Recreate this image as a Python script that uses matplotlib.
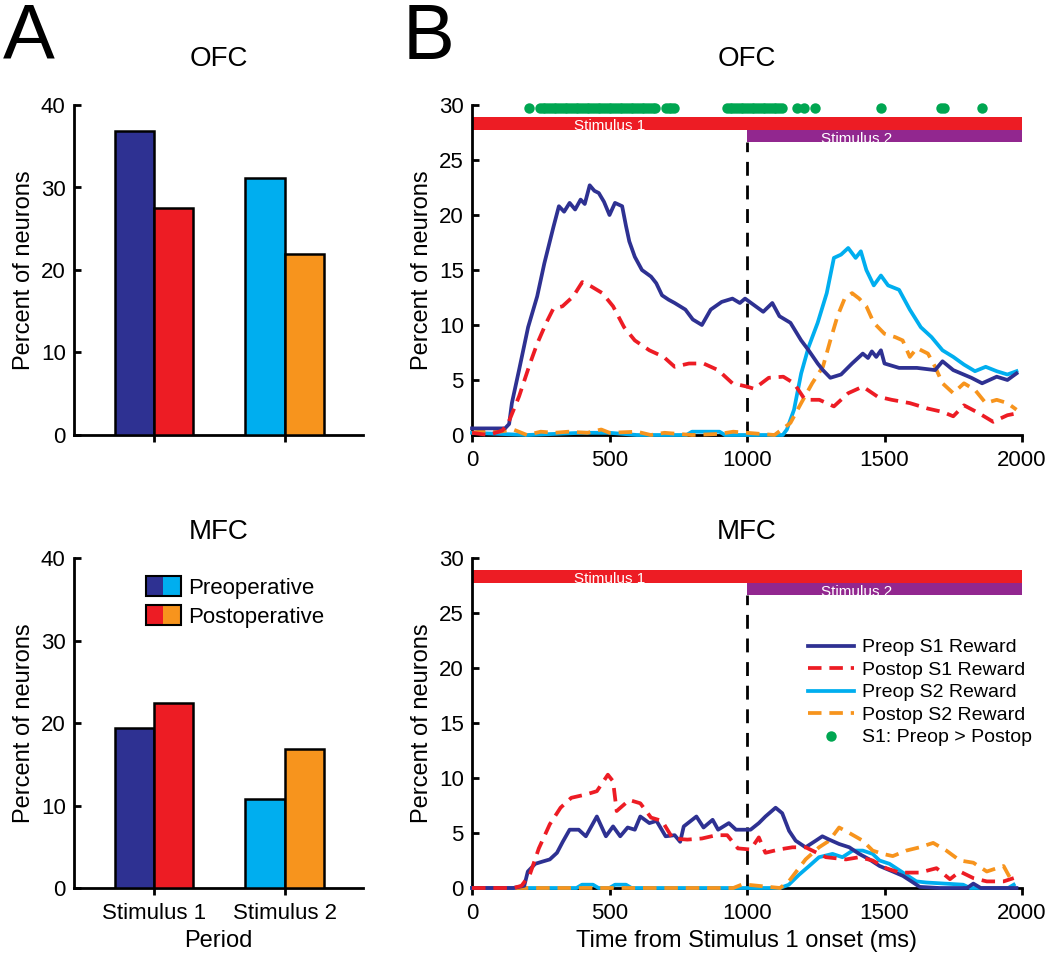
import numpy as np
import matplotlib
matplotlib.use("Agg")
import matplotlib.pyplot as plt
from matplotlib.patches import Rectangle
from matplotlib.lines import Line2D
from matplotlib.legend_handler import HandlerBase

plt.rcParams['font.family'] = ['Liberation Sans', 'DejaVu Sans']

# ---------------- data ----------------
periods = ['Stimulus 1', 'Stimulus 2']
ofc_pre = [36.8, 31.1]
ofc_post = [27.5, 21.9]
mfc_pre = [19.4, 10.8]
mfc_post = [22.4, 16.9]

# OFC time courses (ms, percent)
ofc_pre_s1_t = [0, 60, 120, 135, 145, 171, 204, 237, 263, 296, 316, 335, 355, 375, 395, 410, 428, 445, 461, 480, 500, 520, 546, 560, 572, 592, 618, 651, 670, 691, 715, 737, 776, 803, 836, 868, 908, 947, 974, 993, 1026, 1059, 1092, 1118, 1158, 1197, 1224, 1257, 1276, 1303, 1342, 1382, 1421, 1440, 1454, 1470, 1487, 1500, 1553, 1618, 1684, 1711, 1750, 1816, 1855, 1908, 1947, 1980]
ofc_pre_s1 = [0.6, 0.6, 0.6, 1.0, 2.9, 5.9, 9.8, 12.6, 15.6, 18.9, 20.8, 20.3, 21.1, 20.5, 21.4, 21.0, 22.7, 22.2, 22.0, 21.2, 20.0, 21.1, 20.8, 19.0, 17.6, 16.2, 15.0, 14.4, 13.8, 12.7, 12.3, 12.0, 11.4, 10.5, 10.0, 11.4, 12.1, 12.4, 12.0, 12.4, 11.8, 11.2, 12.0, 10.8, 10.2, 8.6, 7.7, 6.5, 5.9, 5.2, 5.5, 6.5, 7.4, 7.0, 7.6, 7.1, 7.7, 6.5, 6.1, 6.1, 5.9, 6.7, 5.9, 5.2, 4.7, 5.3, 5.0, 5.6]
ofc_post_s1_t = [0, 60, 110, 132, 171, 211, 237, 270, 296, 329, 368, 401, 434, 474, 513, 553, 592, 645, 697, 737, 789, 842, 895, 947, 1000, 1026, 1079, 1132, 1171, 1211, 1263, 1316, 1368, 1421, 1474, 1526, 1592, 1658, 1711, 1750, 1789, 1842, 1895, 1947, 1987]
ofc_post_s1 = [0.2, 0.0, 0.4, 1.1, 3.5, 6.5, 8.3, 10.2, 11.5, 11.7, 12.6, 13.9, 13.5, 12.9, 11.7, 9.8, 8.6, 7.7, 7.1, 6.2, 6.5, 6.5, 5.9, 4.7, 4.4, 4.2, 5.2, 5.3, 4.7, 3.2, 3.2, 2.6, 3.8, 4.4, 3.5, 3.2, 2.9, 2.4, 2.1, 1.7, 2.7, 2.0, 1.2, 1.8, 2.0]
ofc_pre_s2_t = [0, 100, 200, 400, 500, 600, 780, 800, 900, 920, 1000, 1130, 1145, 1171, 1197, 1224, 1257, 1290, 1316, 1342, 1368, 1395, 1414, 1434, 1461, 1487, 1513, 1553, 1592, 1632, 1671, 1711, 1750, 1789, 1829, 1868, 1908, 1947, 1980]
ofc_pre_s2 = [0.2, 0.1, 0.0, 0.2, 0.2, 0.0, 0.0, 0.3, 0.3, 0.0, 0.0, 0.0, 0.5, 2.3, 5.6, 8.0, 10.2, 12.9, 16.1, 16.4, 17.0, 16.1, 16.7, 15.0, 13.6, 14.5, 13.6, 13.2, 11.4, 9.8, 8.9, 7.7, 7.1, 6.4, 5.8, 6.2, 5.8, 5.5, 5.8]
ofc_post_s2_t = [0, 50, 100, 150, 200, 250, 300, 350, 420, 470, 500, 600, 650, 700, 800, 900, 950, 1000, 1100, 1158, 1197, 1237, 1276, 1303, 1329, 1355, 1382, 1408, 1434, 1461, 1500, 1539, 1566, 1592, 1618, 1658, 1684, 1711, 1750, 1789, 1829, 1868, 1908, 1947, 1980]
ofc_post_s2 = [0.2, 0.4, 0.3, 0.5, 0.0, 0.3, 0.2, 0.3, 0.2, 0.5, 0.2, 0.3, 0.0, 0.2, 0.0, 0.1, 0.3, 0.2, 0.0, 1.1, 2.9, 4.7, 6.2, 8.6, 10.8, 12.4, 12.9, 12.4, 11.7, 10.2, 9.2, 8.9, 8.6, 7.1, 7.9, 7.4, 6.2, 4.7, 3.8, 4.7, 4.1, 2.9, 3.2, 2.9, 2.3]

# MFC time courses
mfc_pre_s1_t = [0, 150, 190, 203, 230, 256, 283, 309, 330, 355, 388, 414, 454, 487, 513, 539, 566, 592, 612, 645, 671, 704, 737, 757, 770, 816, 842, 875, 895, 934, 960, 1013, 1043, 1067, 1104, 1128, 1153, 1177, 1213, 1250, 1274, 1299, 1335, 1372, 1408, 1445, 1482, 1530, 1567, 1604, 1628, 1700, 1800, 1823, 1850, 1980]
mfc_pre_s1 = [0.0, 0.0, 0.2, 1.5, 2.2, 2.4, 2.6, 3.2, 4.2, 5.3, 5.3, 4.7, 6.5, 4.7, 5.6, 4.7, 5.5, 5.3, 6.5, 5.9, 6.1, 4.7, 4.8, 4.2, 5.6, 6.5, 5.5, 6.2, 5.3, 5.9, 5.3, 5.3, 5.9, 6.5, 7.3, 6.8, 5.2, 4.3, 3.7, 4.3, 4.7, 4.4, 4.0, 3.7, 3.1, 2.6, 2.0, 1.5, 1.1, 0.5, 0.1, 0.0, 0.0, 0.4, 0.0, 0.0]
mfc_post_s1_t = [0, 150, 180, 210, 243, 283, 322, 361, 414, 454, 494, 513, 526, 572, 612, 651, 691, 730, 783, 836, 888, 928, 967, 1013, 1043, 1067, 1116, 1165, 1213, 1287, 1360, 1408, 1457, 1506, 1555, 1628, 1689, 1738, 1774, 1823, 1872, 1933, 1970]
mfc_post_s1 = [0.0, 0.0, 0.2, 1.2, 3.6, 5.8, 7.3, 8.2, 8.5, 8.8, 10.3, 9.7, 7.0, 8.0, 7.7, 6.4, 6.1, 4.5, 4.4, 4.5, 4.8, 4.8, 3.6, 3.5, 4.6, 3.2, 3.5, 3.7, 3.7, 2.8, 2.6, 2.8, 2.5, 1.8, 1.4, 1.4, 1.8, 0.8, 1.5, 0.9, 0.6, 0.6, 0.9]
mfc_pre_s2_t = [0, 380, 400, 440, 460, 500, 520, 560, 580, 1120, 1152, 1189, 1226, 1262, 1311, 1347, 1384, 1421, 1457, 1482, 1518, 1567, 1616, 1652, 1786, 1811, 1950, 1970]
mfc_pre_s2 = [0.0, 0.0, 0.3, 0.3, 0.0, 0.0, 0.3, 0.3, 0.0, 0.0, 0.3, 1.2, 2.0, 2.8, 3.1, 2.8, 3.4, 3.4, 3.1, 2.5, 2.2, 1.4, 0.6, 0.5, 0.3, 0.0, 0.0, 0.3]
mfc_post_s2_t = [0, 950, 980, 1000, 1120, 1152, 1213, 1262, 1299, 1335, 1372, 1421, 1457, 1494, 1530, 1579, 1628, 1677, 1725, 1774, 1823, 1872, 1933, 1957]
mfc_post_s2 = [0.0, 0.0, 0.3, 0.3, 0.0, 0.6, 2.6, 3.7, 4.3, 5.5, 5.0, 4.3, 3.4, 3.1, 2.9, 3.4, 3.7, 4.1, 3.4, 2.5, 2.3, 1.5, 2.0, 0.9]

# significant bins (S1: Preop > Postop), start/end of runs in ms
sig_runs = [(207, 207), (247, 669), (705, 738), (927, 1135), (1181, 1181), (1207, 1207), (1247, 1247), (1487, 1487), (1705, 1720), (1855, 1855)]

c_pre1 = '#2E3192'
c_post1 = '#ED1C24'
c_pre2 = '#00AEEF'
c_post2 = '#F7941D'
c_green = '#00A651'
c_purple = '#92278F'

W, H = 1050, 955
fig = plt.figure(figsize=(W / 100, H / 100), dpi=100)


def box(l, t, r, b):
    return [l / W, 1 - b / H, (r - l) / W, (b - t) / H]


axA1 = fig.add_axes(box(74, 105, 363, 435))
axA2 = fig.add_axes(box(74, 558, 363, 888))
axB1 = fig.add_axes(box(472, 105, 1022, 435))
axB2 = fig.add_axes(box(472, 558, 1022, 888))


def style(ax):
    for s in ['top', 'right']:
        ax.spines[s].set_visible(False)
    for s in ['left', 'bottom']:
        ax.spines[s].set_linewidth(2)
    ax.tick_params(axis='y', direction='in', length=5, width=2, labelsize=16, pad=6)
    ax.tick_params(axis='x', direction='out', length=5, width=2, labelsize=16, pad=6)


# ---------- panel A ----------
x = np.arange(len(periods)) + 1
bw = 0.3
for ax, pre, post, title, tpad in [(axA1, ofc_pre, ofc_post, 'OFC', 28), (axA2, mfc_pre, mfc_post, 'MFC', 14)]:
    ax.bar(x - bw / 2, pre, bw, color=[c_pre1, c_pre2], edgecolor='black', linewidth=1.8, zorder=3)
    ax.bar(x + bw / 2, post, bw, color=[c_post1, c_post2], edgecolor='black', linewidth=1.8, zorder=3)
    ax.set_xlim(0.39, 2.6)
    ax.set_ylim(0, 40)
    ax.set_yticks([0, 10, 20, 30, 40])
    ax.set_xticks(x)
    ax.set_ylabel('Percent of neurons', fontsize=17, labelpad=4)
    ax.set_title(title, fontsize=20, pad=tpad)
    style(ax)
axA1.set_xticklabels([])
axA2.set_xticklabels(periods, fontsize=16)
axA2.set_xlabel('Period', fontsize=17, labelpad=4)


class TwoColorHandler(HandlerBase):
    def __init__(self, c1, c2):
        super().__init__()
        self.c1, self.c2 = c1, c2

    def create_artists(self, legend, orig_handle, xdescent, ydescent, width, height, fontsize, trans):
        r1 = Rectangle((-xdescent, -ydescent), width / 2, height, facecolor=self.c1, edgecolor='none', transform=trans)
        r2 = Rectangle((-xdescent + width / 2, -ydescent), width / 2, height, facecolor=self.c2, edgecolor='none', transform=trans)
        r3 = Rectangle((-xdescent, -ydescent), width, height, facecolor='none', edgecolor='black', linewidth=1.5, transform=trans)
        return [r1, r2, r3]


h_pre = Rectangle((0, 0), 1, 1)
h_post = Rectangle((0, 0), 1, 1)
axA2.legend([h_pre, h_post], ['Preoperative', 'Postoperative'],
            handler_map={h_pre: TwoColorHandler(c_pre1, c_pre2), h_post: TwoColorHandler(c_post1, c_post2)},
            loc='upper left', bbox_to_anchor=(0.25, 0.945), frameon=False, fontsize=16,
            handlelength=1.55, handleheight=1.0, handletextpad=0.35, labelspacing=0.3,
            borderpad=0, borderaxespad=0)

# ---------- panel B ----------
dash = (3.6, 2.1)
lw = 2.7
for ax, title, tpad, series in [
        (axB1, 'OFC', 28, [(ofc_pre_s1_t, ofc_pre_s1), (ofc_post_s1_t, ofc_post_s1), (ofc_pre_s2_t, ofc_pre_s2), (ofc_post_s2_t, ofc_post_s2)]),
        (axB2, 'MFC', 14, [(mfc_pre_s1_t, mfc_pre_s1), (mfc_post_s1_t, mfc_post_s1), (mfc_pre_s2_t, mfc_pre_s2), (mfc_post_s2_t, mfc_post_s2)])]:
    ax.plot([1000, 1000], [0, 26.6], color='black', lw=2, dashes=(5, 3.5), zorder=2)
    ax.plot(series[2][0], series[2][1], color=c_pre2, lw=lw, label='Preop S2 Reward', zorder=3, clip_on=False)
    ax.plot(series[3][0], series[3][1], color=c_post2, lw=lw, dashes=dash, label='Postop S2 Reward', zorder=3, clip_on=False)
    ax.plot(series[0][0], series[0][1], color=c_pre1, lw=lw, label='Preop S1 Reward', zorder=4, clip_on=False)
    ax.plot(series[1][0], series[1][1], color=c_post1, lw=lw, dashes=dash, label='Postop S1 Reward', zorder=4, clip_on=False)
    r1 = ax.barh(28.3, 2000, left=0, height=1.2, color=c_post1, zorder=2)[0]
    r2 = ax.barh(27.15, 1000, left=1000, height=1.1, color=c_purple, zorder=2)[0]
    t1 = ax.text(500, 28.05, 'Stimulus 1', color='white', fontsize=11, ha='center', va='center', zorder=3)
    t1.set_clip_path(r1)
    t2 = ax.text(1400, 26.95, 'Stimulus 2', color='white', fontsize=11, ha='center', va='center', zorder=3)
    t2.set_clip_path(r2)
    ax.set_xlim(0, 2000)
    ax.set_ylim(0, 30)
    ax.set_xticks([0, 500, 1000, 1500, 2000])
    ax.set_yticks([0, 5, 10, 15, 20, 25, 30])
    ax.set_ylabel('Percent of neurons', fontsize=17, labelpad=4)
    ax.set_title(title, fontsize=20, pad=tpad)
    style(ax)

sig_t = np.concatenate([np.arange(a, b + 1, 10) for a, b in sig_runs])
axB1.plot(sig_t, np.full(len(sig_t), 29.7), 'o', color=c_green, ms=7.5, mec='none', clip_on=False, zorder=5)
axB2.set_xlabel('Time from Stimulus 1 onset (ms)', fontsize=17, labelpad=4)

handles = [Line2D([], [], color=c_pre1, lw=lw),
           Line2D([], [], color=c_post1, lw=lw, dashes=dash),
           Line2D([], [], color=c_pre2, lw=lw),
           Line2D([], [], color=c_post2, lw=lw, dashes=dash),
           Line2D([], [], color=c_green, marker='o', ls='none', ms=7.5, mec='none')]
labels = ['Preop S1 Reward', 'Postop S1 Reward', 'Preop S2 Reward', 'Postop S2 Reward', 'S1: Preop > Postop']
axB2.legend(handles, labels, loc='upper left', bbox_to_anchor=(0.61, 0.755), frameon=False, fontsize=14,
            handlelength=2.4, handletextpad=0.4, labelspacing=0.25, borderpad=0, borderaxespad=0)

fig.text(0.003, 0.998, 'A', fontsize=56, va='top', ha='left')
fig.text(0.383, 0.998, 'B', fontsize=56, va='top', ha='left')

fig.savefig('out.png', dpi=100)
